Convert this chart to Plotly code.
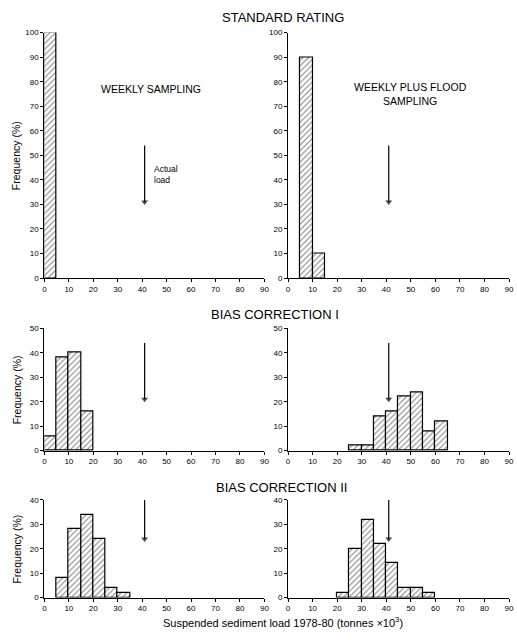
import plotly.graph_objects as go

W, H = 517, 641

bin_left = [0, 5, 10, 15, 20, 25, 30, 35, 40, 45, 50, 55, 60, 65, 70, 75, 80, 85]
bin_width = 5

# Frequency (%) per 5-unit bin
std_weekly = [100, 0, 0, 0, 0, 0, 0, 0, 0, 0, 0, 0, 0, 0, 0, 0, 0, 0]
std_flood = [0, 90, 10, 0, 0, 0, 0, 0, 0, 0, 0, 0, 0, 0, 0, 0, 0, 0]
bc1_weekly = [6, 38, 40, 16, 0, 0, 0, 0, 0, 0, 0, 0, 0, 0, 0, 0, 0, 0]
bc1_flood = [0, 0, 0, 0, 0, 2, 2, 14, 16, 22, 24, 8, 12, 0, 0, 0, 0, 0]
bc2_weekly = [0, 8, 28, 34, 24, 4, 2, 0, 0, 0, 0, 0, 0, 0, 0, 0, 0, 0]
bc2_flood = [0, 0, 0, 0, 2, 20, 32, 22, 14, 4, 4, 2, 0, 0, 0, 0, 0, 0]

actual_load = 41
row_titles = ["STANDARD RATING", "BIAS CORRECTION I", "BIAS CORRECTION II"]
y_max = [100, 50, 40]
arrow_top = [54, 44, 40]
arrow_tip = [31, 21, 24]
x_ticks = [0, 10, 20, 30, 40, 50, 60, 70, 80, 90]

panels = [
    [std_weekly, std_flood],
    [bc1_weekly, bc1_flood],
    [bc2_weekly, bc2_flood],
]

# pixel layout
x_px = [(43, 266), (290, 514)]
y_px = [(29, 278), (329, 453), (503, 602)]

def px_x(p):
    return p / W

def px_y(p):
    return 1 - p / H

fig = go.Figure()
font_family = "Liberation Sans, Arial, Helvetica, sans-serif"
annotations = []

k = 0
for r in range(3):
    for c in range(2):
        k += 1
        xa = "x" if k == 1 else f"x{k}"
        ya = "y" if k == 1 else f"y{k}"
        vals = panels[r][c]
        xs = [b + bin_width / 2 for b, v in zip(bin_left, vals) if v > 0]
        ys = [v for v in vals if v > 0]
        fig.add_trace(go.Bar(
            x=xs, y=ys, width=bin_width, xaxis=xa, yaxis=ya,
            marker=dict(color="white", line=dict(color="black", width=1.2),
                        pattern=dict(shape="/", fgcolor="black", bgcolor="white",
                                     size=4, solidity=0.25)),
            showlegend=False, hoverinfo="skip",
        ))
        # actual load arrow
        fig.add_trace(go.Scatter(
            x=[actual_load, actual_load], y=[arrow_top[r], arrow_tip[r]],
            xaxis=xa, yaxis=ya, mode="lines+markers",
            line=dict(color="black", width=1.2),
            marker=dict(symbol=["line-ew", "triangle-down"], size=[1, 6], color="black",
                        line=dict(width=0)),
            showlegend=False, hoverinfo="skip",
        ))
        axis_common = dict(
            showline=True, linecolor="black", linewidth=1.2, ticks="outside",
            ticklen=3, tickwidth=1, tickcolor="black", showgrid=False,
            zeroline=False, tickfont=dict(size=8, color="black", family=font_family),
        )
        xkey = "xaxis" if k == 1 else f"xaxis{k}"
        ykey = "yaxis" if k == 1 else f"yaxis{k}"
        x0, x1 = x_px[c]
        y0, y1 = y_px[r]
        fig.update_layout(**{
            xkey: dict(domain=[px_x(x0), px_x(x1)], range=[0, 90],
                       tickvals=x_ticks, anchor=ya, **axis_common),
            ykey: dict(domain=[px_y(y1), px_y(y0)], range=[0, y_max[r]],
                       dtick=10, anchor=xa, **axis_common),
        })

# row titles
title_y = [14, 315, 490]
title_x = [285, 277, 283]
for t, ty, tx in zip(row_titles, title_y, title_x):
    annotations.append(dict(text=t, x=px_x(tx), y=px_y(ty), xref="paper", yref="paper",
                            xanchor="center", yanchor="middle",
                            showarrow=False, font=dict(size=13, color="black", family=font_family)))

annotations += [
    dict(text="WEEKLY SAMPLING", x=43.5, y=77, xref="x", yref="y", showarrow=False,
         xanchor="center", yanchor="middle",
         font=dict(size=10.5, color="black", family=font_family)),
    dict(text="WEEKLY PLUS FLOOD<br>SAMPLING", x=50, y=75, xref="x2", yref="y2",
         xanchor="center", yanchor="middle",
         showarrow=False, font=dict(size=10.5, color="black", family=font_family)),
    dict(text="Actual<br>load", x=44, y=42, xref="x", yref="y", showarrow=False,
         xanchor="left", yanchor="middle", align="left",
         font=dict(size=8.5, color="black", family=font_family)),
    dict(text="Suspended sediment load 1978-80 (tonnes ×10<sup>3</sup>)", x=px_x(285), y=px_y(627),
         xref="paper", yref="paper", showarrow=False, xanchor="center", yanchor="middle",
         font=dict(size=11, color="black", family=font_family)),
]
for r in range(3):
    yc = (y_px[r][0] + y_px[r][1]) / 2
    annotations.append(dict(text="Frequency (%)", x=px_x(15), y=px_y(yc), xref="paper", yref="paper",
                            showarrow=False, textangle=-90, xanchor="center", yanchor="middle",
                            font=dict(size=10.5, color="black", family=font_family)))

fig.update_layout(
    width=W, height=H, margin=dict(l=0, r=0, t=0, b=0),
    paper_bgcolor="white", plot_bgcolor="white", bargap=0, barmode="overlay",
    annotations=annotations,
)

fig.write_html("out.html")
